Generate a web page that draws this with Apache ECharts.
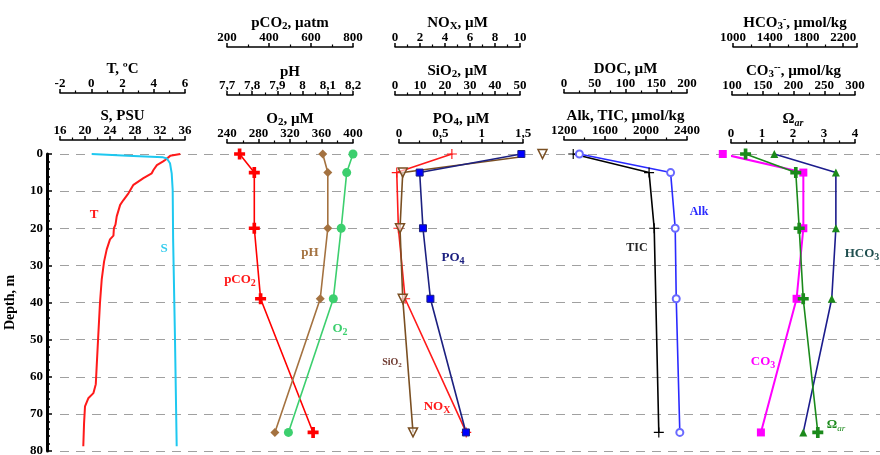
<!DOCTYPE html>
<html>
<head>
<meta charset="utf-8">
<script src="https://cdn.jsdelivr.net/npm/echarts@6/dist/echarts.min.js"></script>
<style>
html, body { margin: 0; padding: 0; background: #fff; }
#chart { width: 880px; height: 455px; }
</style>
</head>
<body>
<div id="chart"></div>
<script>
// ---- CTD profiles ----
const tDepth = [0, 0.5, 1.6, 2, 3, 4.3, 5.2, 6.5, 8.3, 10.6, 12.4, 13.7, 16.8, 19, 20, 22, 23, 25.7, 29, 33.8, 40, 48, 57, 62, 64.4, 65.8, 68, 72.5, 78.7];
const temperature = [5.7, 5.05, 4.73, 4.6, 4.2, 3.98, 3.87, 3.34, 2.7, 2.38, 2.06, 1.85, 1.63, 1.55, 1.45, 1.42, 1.2, 0.99, 0.82, 0.67, 0.56, 0.46, 0.35, 0.29, 0.14, -0.19, -0.4, -0.46, -0.51];
const sDepth = [0, 0.45, 0.9, 1.2, 2.5, 5.2, 9.7, 23, 50, 78.7];
const salinity = [21.07, 26.8, 32.5, 33.1, 33.6, 33.87, 34.03, 34.1, 34.4, 34.67];

// ---- Bottle samples ----
const bottleDepth = [0, 5, 20, 39, 75];
const pco2 = [260, 330, 330, 360, 610];
const ph = [8.08, 8.10, 8.10, 8.07, 7.89];
const oxygen = [400, 392, 385, 375, 318];
const nox = [4.55, 0.14, 0.27, 0.81, 5.7];
const silicate = [59, 3.1, 2.0, 3.1, 7.2];
const phosphate = [1.48, 0.25, 0.29, 0.38, 0.81];
const ticDepth = [0, 5, 20, 75];
const tic = [1290, 2030, 2080, 2125];
const alkalinity = [1350, 2240, 2285, 2295, 2330];
const bicarbonate = [1450, 2120, 2120, 2075, 1765];
const carbonate = [85, 216, 216, 205, 147];
const omegaAr = [0.47, 2.09, 2.2, 2.33, 2.8];

// ---- Depth axis ----
const depthMin = 0, depthMax = 80, depthStep = 10;

const SERIF = '"Liberation Serif", "DejaVu Serif", serif';
const PLOT_TOP = 154;
const PLOT_H = 297;

const rich = {
  b:   { fontFamily: SERIF, fontWeight: 'bold', fontSize: 15, lineHeight: 18, color: '#000', verticalAlign: 'middle' },
  sub: { fontFamily: SERIF, fontWeight: 'bold', fontSize: 11, lineHeight: 11, color: '#000', verticalAlign: 'bottom' },
  sup: { fontFamily: SERIF, fontWeight: 'bold', fontSize: 10, lineHeight: 10, color: '#000', verticalAlign: 'top' },
  ar:  { fontFamily: SERIF, fontStyle: 'italic', fontSize: 10, lineHeight: 10, color: '#000', verticalAlign: 'bottom' }
};

const comma = v => String(+v.toFixed(2)).replace('.', ',');

// one grid per top axis; each grid spans the same depth range
const axes = [
  { key: 'T',    left: 60,  width: 125, min: -2,  max: 6,    step: 2,   lineY: 93,  name: '{b|T, ºC}' },
  { key: 'S',    left: 60,  width: 125, min: 16,  max: 36,   step: 4,   lineY: 140, name: '{b|S, PSU}' },
  { key: 'pCO2', left: 227, width: 126, min: 200, max: 800,  step: 200, lineY: 47,  name: '{b|pCO}{sub|2}{b|, µatm}' },
  { key: 'pH',   left: 227, width: 126, min: 7.7, max: 8.2,  step: 0.1, lineY: 95,  name: '{b|pH}', fmt: comma, gap: 14 },
  { key: 'O2',   left: 227, width: 126, min: 240, max: 400,  step: 40,  lineY: 143, name: '{b|O}{sub|2}{b|, µM}' },
  { key: 'NOx',  left: 395, width: 125, min: 0,   max: 10,   step: 2,   lineY: 47,  name: '{b|NO}{sub|X}{b|, µM}' },
  { key: 'SiO2', left: 395, width: 125, min: 0,   max: 50,   step: 10,  lineY: 95,  name: '{b|SiO}{sub|2}{b|, µM}' },
  { key: 'PO4',  left: 399, width: 124, min: 0,   max: 1.5,  step: 0.5, lineY: 143, name: '{b|PO}{sub|4}{b|, µM}', fmt: comma },
  { key: 'DOC',  left: 564, width: 123, min: 0,   max: 200,  step: 50,  lineY: 93,  name: '{b|DOC, µM}' },
  { key: 'Alk',  left: 564, width: 123, min: 1200, max: 2400, step: 400, lineY: 140, name: '{b|Alk, TIC, µmol/kg}' },
  { key: 'HCO3', left: 733, width: 124, min: 1000, max: 2350, step: 400, lineY: 47, name: '{b|HCO}{sub|3}{sup|-}{b|, µmol/kg}' },
  { key: 'CO3',  left: 732, width: 123, min: 100, max: 300,  step: 50,  lineY: 95,  name: '{b|CO}{sub|3}{sup|--}{b|, µmol/kg}' },
  { key: 'Om',   left: 731, width: 124, min: 0,   max: 4,    step: 1,   lineY: 143, name: '{b|Ω}{ar|ar}' }
];

// grid 0: depth scale; grid 1: dashed depth gridlines across all panels
const grids = [
  { left: 47, width: 10, top: PLOT_TOP, height: PLOT_H, containLabel: false, outerBoundsMode: 'none' },
  { left: 60, right: 0, top: PLOT_TOP, height: PLOT_H, containLabel: false, outerBoundsMode: 'none' }
];
const xAxes = [
  { gridIndex: 0, type: 'value', min: 0, max: 1, show: false },
  { gridIndex: 1, type: 'value', min: 0, max: 1, show: false }
];
const yAxes = [{
  gridIndex: 0, type: 'value', inverse: true, min: depthMin, max: depthMax, interval: depthStep,
  name: 'Depth, m', nameLocation: 'middle', nameRotate: 90, nameGap: 30, nameMoveOverlap: false,
  nameTextStyle: { fontFamily: SERIF, fontWeight: 'bold', fontSize: 14, color: '#000' },
  axisLine: { show: true, lineStyle: { color: '#000', width: 3 } },
  axisTick: { show: true, inside: true, length: 5, lineStyle: { color: '#000', width: 1.5 } },
  minorTick: { show: true, splitNumber: 5, length: 3, lineStyle: { color: '#000', width: 1.5 } },
  axisLabel: { margin: 4, fontFamily: SERIF, fontWeight: 'bold', fontSize: 13, color: '#000' },
  splitLine: { show: false }
}, {
  gridIndex: 1, type: 'value', inverse: true, min: depthMin, max: depthMax, interval: depthStep,
  axisLine: { show: false }, axisTick: { show: false }, axisLabel: { show: false },
  splitLine: { show: true, lineStyle: { color: '#a0a0a0', width: 1, type: [9, 7] } }
}];

const axisIndex = {};
axes.forEach((a, i) => {
  const gi = i + 2;
  axisIndex[a.key] = gi;
  grids.push({ left: a.left, width: a.width, top: PLOT_TOP, height: PLOT_H, containLabel: false, outerBoundsMode: 'none' });
  xAxes.push({
    gridIndex: gi, type: 'value', position: 'top', offset: PLOT_TOP - a.lineY,
    min: a.min, max: a.max, interval: a.step,
    name: a.name, nameLocation: 'middle', nameGap: a.gap != null ? a.gap : 15,
    nameMoveOverlap: false,
    nameTextStyle: { fontFamily: SERIF, fontWeight: 'bold', fontSize: 15, color: '#000', rich: rich },
    axisLine: { show: true, onZero: false, lineStyle: { color: '#000', width: 1.5 } },
    axisTick: { show: true, inside: false, length: 4, lineStyle: { color: '#000', width: 1.5 } },
    minorTick: { show: true, splitNumber: 2, length: 2.5, lineStyle: { color: '#000', width: 1.2 } },
    axisLabel: {
      margin: 3, fontFamily: SERIF, fontWeight: 'bold', fontSize: 13, color: '#000',
      formatter: a.fmt || (v => String(+v.toFixed(2)))
    },
    splitLine: { show: false }
  });
  yAxes.push({ gridIndex: gi, type: 'value', inverse: true, min: depthMin, max: depthMax, show: false });
});

const pair = (xs, ds) => xs.map((v, i) => [v, ds[i]]);

const FAT_CROSS = 'path://M-1,-3H1V-1H3V1H1V3H-1V1H-3V-1H-1Z';
const THIN_CROSS = 'path://M-0.35,-3H0.35V-0.35H3V0.35H0.35V3H-0.35V0.35H-3V-0.35H-0.35Z';
const TRI_DOWN = 'path://M-3,-2.6H3L0,2.6Z';

function profile(key, xs, ds, color, extra) {
  const gi = axisIndex[key];
  return Object.assign({
    type: 'line', xAxisIndex: gi, yAxisIndex: gi,
    data: pair(xs, ds), clip: false, silent: true, animation: false,
    showSymbol: true, symbol: 'none',
    lineStyle: { color: color, width: 1.6 },
    itemStyle: { color: color }
  }, extra || {});
}

const series = [
  profile('T', temperature, tDepth, '#ff1a1a', { lineStyle: { color: '#ff1a1a', width: 2 } }),
  profile('S', salinity, sDepth, '#1ec8f0', { lineStyle: { color: '#1ec8f0', width: 2 } }),
  profile('pCO2', pco2, bottleDepth, '#ff0000', { symbol: FAT_CROSS, symbolSize: 11 }),
  profile('pH', ph, bottleDepth, '#a47240', { symbol: 'diamond', symbolSize: 9 }),
  profile('O2', oxygen, bottleDepth, '#3ccf6e', { symbol: 'circle', symbolSize: 9 }),
  profile('NOx', nox, bottleDepth, '#ff1a1a', { symbol: THIN_CROSS, symbolSize: 10 }),
  profile('SiO2', silicate, bottleDepth, '#7a4f22', {
    symbol: TRI_DOWN, symbolSize: 9,
    itemStyle: { color: 'rgba(255,255,255,0.6)', borderColor: '#7a4f22', borderWidth: 1.5 }
  }),
  profile('PO4', phosphate, bottleDepth, '#1c2080', {
    symbol: 'rect', symbolSize: 7,
    itemStyle: { color: '#0000ff', borderColor: '#1c2080', borderWidth: 1 }
  }),
  profile('Alk', tic, ticDepth, '#000000', { symbol: THIN_CROSS, symbolSize: 10 }),
  profile('Alk', alkalinity, bottleDepth, '#2a2aff', {
    symbol: 'emptyCircle', symbolSize: 7,
    itemStyle: { color: '#6a6aff', borderWidth: 1 }
  }),
  profile('HCO3', bicarbonate, bottleDepth, '#1c1c8c', {
    symbol: 'triangle', symbolSize: 8, itemStyle: { color: '#1b8a1b' }
  }),
  profile('CO3', carbonate, bottleDepth, '#ff00ff', { symbol: 'rect', symbolSize: 8, lineStyle: { color: '#ff00ff', width: 2 } }),
  profile('Om', omegaAr, bottleDepth, '#1b8a1b', { symbol: FAT_CROSS, symbolSize: 11 })
];

// curve labels
function tag(x, y, text, color, size, richExtra) {
  return {
    type: 'text', x: x, y: y, silent: true,
    style: {
      text: text, fill: color, align: 'center', verticalAlign: 'middle',
      font: 'bold ' + (size || 13) + 'px ' + SERIF,
      rich: richExtra
    }
  };
}
function subRich(color, size) {
  return {
    m: { fontFamily: SERIF, fontWeight: 'bold', fontSize: size, lineHeight: size + 4, fill: color, color: color, verticalAlign: 'middle' },
    s: { fontFamily: SERIF, fontWeight: 'bold', fontSize: size - 3, lineHeight: size - 3, fill: color, color: color, verticalAlign: 'bottom' },
    i: { fontFamily: SERIF, fontStyle: 'italic', fontSize: size - 4, lineHeight: size - 4, fill: color, color: color, verticalAlign: 'bottom' }
  };
}

const graphics = [
  tag(94, 215, 'T', '#ff1a1a', 13),
  tag(164, 249, 'S', '#33ccee', 13),
  tag(240, 280, '{m|pCO}{s|2}', '#ff1a1a', 13, subRich('#ff1a1a', 13)),
  tag(310, 253, 'pH', '#a47240', 13),
  tag(340, 329, '{m|O}{s|2}', '#3ccf6e', 13, subRich('#3ccf6e', 13)),
  tag(453, 258, '{m|PO}{s|4}', '#1c2080', 13, subRich('#1c2080', 13)),
  tag(392, 362, '{m|SiO}{s|2}', '#6e3a30', 10, subRich('#6e3a30', 10)),
  tag(437, 407, '{m|NO}{s|X}', '#ff1a1a', 13, subRich('#ff1a1a', 13)),
  tag(637, 248, 'TIC', '#222', 12),
  tag(699, 212, 'Alk', '#2a2aff', 12),
  tag(862, 254, '{m|HCO}{s|3}', '#1f4f4f', 13, subRich('#1f4f4f', 13)),
  tag(763, 362, '{m|CO}{s|3}', '#ff00ff', 13, subRich('#ff00ff', 13)),
  tag(836, 425, '{m|Ω}{i|ar}', '#1b8a1b', 13, subRich('#1b8a1b', 13))
];

const chart = echarts.init(document.getElementById('chart'), null, { renderer: 'canvas' });
chart.setOption({
  animation: false,
  backgroundColor: '#fff',
  grid: grids,
  xAxis: xAxes,
  yAxis: yAxes,
  series: series,
  graphic: graphics
});
</script>
</body>
</html>
